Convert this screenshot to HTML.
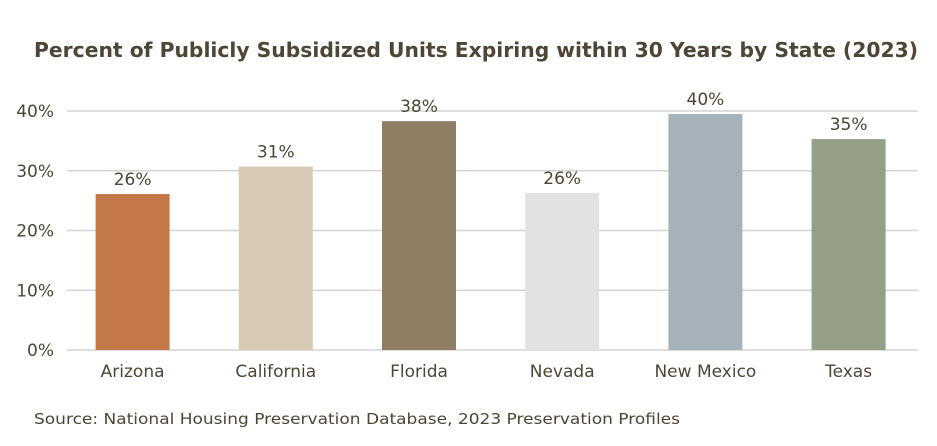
<!DOCTYPE html>
<html><head><meta charset="utf-8"><style>
html,body{margin:0;padding:0;background:#fff;}
svg{display:block;font-family:"DejaVu Sans","Liberation Sans",sans-serif;}
</style></head><body>
<svg id="chart" width="937" height="446" viewBox="0 0 937 446" xmlns="http://www.w3.org/2000/svg">
<text x="476" y="57" text-anchor="middle" font-size="20" font-weight="bold" fill="#4d4535" textLength="884" lengthAdjust="spacingAndGlyphs">Percent of Publicly Subsidized Units Expiring within 30 Years by State (2023)</text>
<g id="grid"></g>
<g id="yticks"></g>
<g id="bars"></g>
<g id="xlabels"></g>
<text x="34" y="424" font-size="15.5" fill="#4d4535" textLength="646" lengthAdjust="spacingAndGlyphs">Source: National Housing Preservation Database, 2023 Preservation Profiles</text>
</svg>
<script>
const categories = ["Arizona","California","Florida","Nevada","New Mexico","Texas"];
const values = [26.1, 30.7, 38.3, 26.3, 39.5, 35.3];
const valueLabels = ["26%","31%","38%","26%","40%","35%"];
const yTicks = [0,10,20,30,40];
const yTickLabels = ["0%","10%","20%","30%","40%"];
const colors = ["#c57847","#d6cab5","#8e7e64","#e2e3e1","#a6b2b9","#959e86"];

const NS="http://www.w3.org/2000/svg";
const x0=67, x1=918, yBase=350, yTop=111, maxV=40;
const y = v => yBase - (v/maxV)*(yBase-yTop);
const bandStart=61, band=143.2;
const xc = i => bandStart + band*(i+0.5);
const bw = 74;
function mk(tag, attrs, parent){const e=document.createElementNS(NS,tag);for(const k in attrs)e.setAttribute(k,attrs[k]);parent.appendChild(e);return e;}
const grid=document.getElementById('grid'), yt=document.getElementById('yticks'), bars=document.getElementById('bars'), xl=document.getElementById('xlabels');
yTicks.forEach((t,i)=>{
  const l=mk('line',{x1:x0,x2:x1,y1:y(t),y2:y(t),stroke:'#d4d4d4','stroke-width':1.5},grid);
  
  
  const tx=mk('text',{x:54,y:y(t)+6,'text-anchor':'end','font-size':17,fill:'#4d4535'},yt);
  tx.textContent=yTickLabels[i];
  
  
});
categories.forEach((c,i)=>{
  const r=mk('rect',{x:xc(i)-bw/2,y:y(values[i]),width:bw,height:yBase-y(values[i]),fill:colors[i]},bars);
  
  
  const v=mk('text',{x:xc(i),y:y(values[i])-9,'text-anchor':'middle','font-size':17,fill:'#4d4535'},bars);
  v.textContent=valueLabels[i];
  
  
  const lb=mk('text',{x:xc(i),y:377,'text-anchor':'middle','font-size':17,fill:'#4d4535'},xl);
  lb.textContent=c;
  
  
});
</script>
</body></html>
